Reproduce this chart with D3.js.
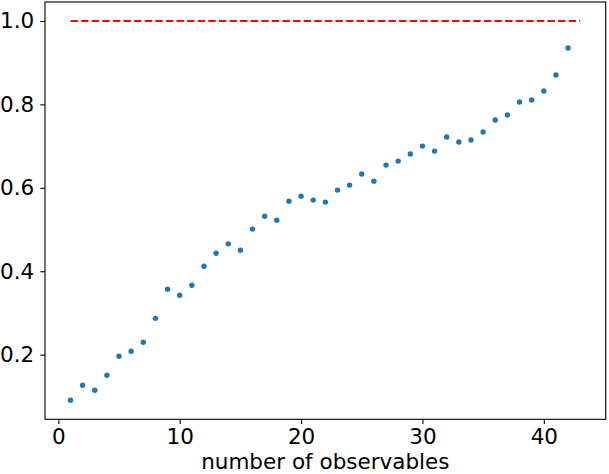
<!DOCTYPE html>
<html>
<head>
<meta charset="utf-8">
<script src="https://cdn.jsdelivr.net/npm/d3@7"></script>
<style>
  html, body { margin: 0; padding: 0; background: #fff; }
  svg { display: block; }
  text { font-family: "DejaVu Sans", sans-serif; }
</style>
</head>
<body>
<svg id="chart" width="609" height="474"></svg>
<script>
const xValues = d3.range(1, 43);
const yValues = [
  0.0905, 0.1265, 0.1145, 0.1505, 0.196, 0.208, 0.2297, 0.287, 0.357, 0.3425,
  0.3665, 0.412, 0.443, 0.4657, 0.4505, 0.501, 0.532, 0.5225, 0.568, 0.58,
  0.5705, 0.5657, 0.5945, 0.6065, 0.633, 0.616, 0.6545, 0.664, 0.681, 0.700,
  0.688, 0.7217, 0.7097, 0.7145, 0.7337, 0.7625, 0.7745, 0.8057, 0.8105, 0.832,
  0.8705, 0.9353
];
const refLine = { x0: 1, x1: 43, y: 1.0 };
const xTicks = [0, 10, 20, 30, 40];
const yTicks = [0.2, 0.4, 0.6, 0.8, 1.0];
const xLabel = "number of observables";

const svg = d3.select("#chart");
const mLeft = 45, mRight = 605.7, mTop = 2, mBottom = 419.3;
const fontSize = 21.5;

const x = d3.scaleLinear().domain([-1.1, 45.1]).range([mLeft, mRight]);
const y = d3.scaleLinear().domain([0.0450, 1.0455]).range([mBottom, mTop]);

// reference line
svg.append("line")
  .attr("x1", x(refLine.x0)).attr("x2", x(refLine.x1))
  .attr("y1", y(refLine.y)).attr("y2", y(refLine.y))
  .attr("stroke", "#ff0000").attr("stroke-width", 2)
  .attr("stroke-dasharray", "7.4,3.2");

// points
svg.append("g").selectAll("circle")
  .data(xValues.map((d, i) => [d, yValues[i]]))
  .join("circle")
  .attr("cx", d => x(d[0])).attr("cy", d => y(d[1]))
  .attr("r", 2.7)
  .attr("fill", "#1f77b4");

// axes
const xAxis = d3.axisBottom(x).tickValues(xTicks).tickFormat(d3.format("d"))
  .tickSizeInner(4.7).tickSizeOuter(0).tickPadding(4.5);
const yAxis = d3.axisLeft(y).tickValues(yTicks).tickFormat(d3.format(".1f"))
  .tickSizeInner(4.7).tickSizeOuter(0).tickPadding(6);

const gx = svg.append("g").attr("transform", `translate(0,${mBottom})`).call(xAxis);
const gy = svg.append("g").attr("transform", `translate(${mLeft},0)`).call(yAxis);
[gx, gy].forEach(g => {
  g.select(".domain").remove();
  g.selectAll("line").attr("stroke", "#000").attr("stroke-width", 1.1);
  g.selectAll("text").attr("font-size", fontSize).attr("fill", "#000")
    .attr("font-family", "DejaVu Sans");
});

// frame
svg.append("rect")
  .attr("x", mLeft).attr("y", mTop)
  .attr("width", mRight - mLeft).attr("height", mBottom - mTop)
  .attr("fill", "none").attr("stroke", "#000").attr("stroke-width", 1.1);

// x label
svg.append("text")
  .attr("x", (mLeft + mRight) / 2).attr("y", 468.5)
  .attr("text-anchor", "middle")
  .attr("font-size", fontSize).attr("fill", "#000")
  .text(xLabel);
</script>
</body>
</html>
